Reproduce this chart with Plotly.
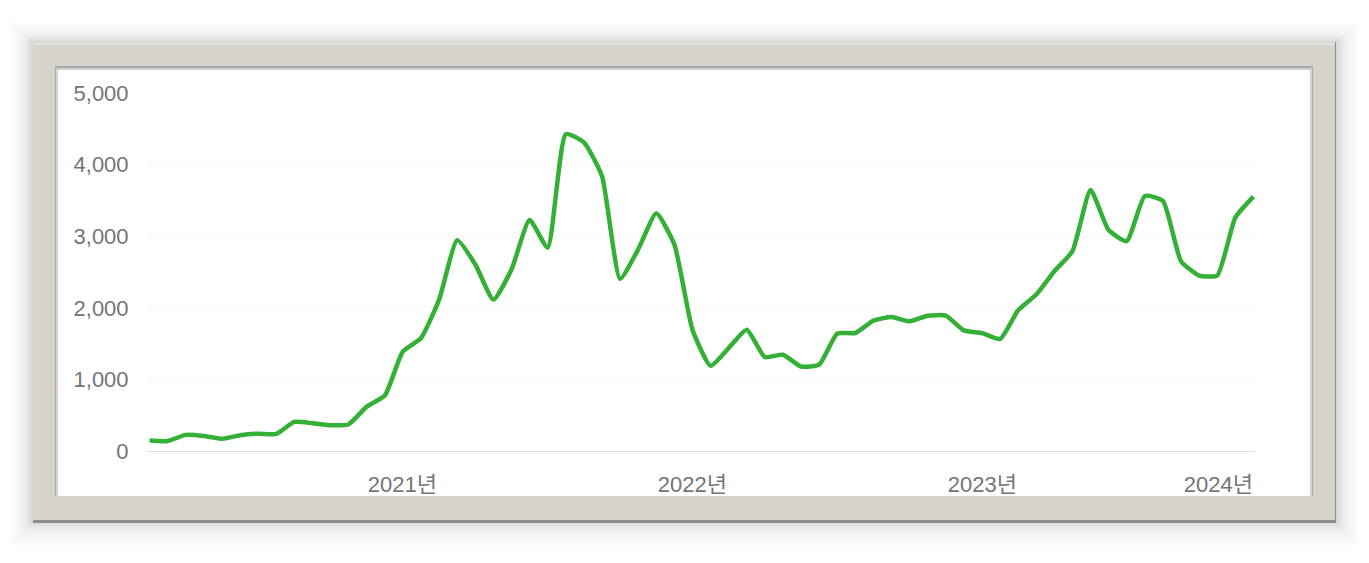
import plotly.graph_objects as go
import pandas as pd

# ---- data ----
start_date = "2020-02-18"
end_date = "2023-12-08"
values = [145, 140, 225, 210, 170, 220, 242, 238, 406, 388, 360, 374, 620, 775,
          1390, 1578, 2115, 2945, 2605, 2115, 2535, 3225, 2840, 4425,
          4310, 3840, 2405, 2815, 3320, 2885, 1695, 1190, 1438, 1695, 1312, 1345,
          1181, 1205, 1640, 1648, 1820, 1872, 1811, 1890, 1890, 1685,
          1648, 1564, 1965, 2185, 2511, 2791, 3646, 3085, 2931, 3562, 3492,
          2651, 2451, 2451, 3259, 3553]
dates = pd.date_range(start_date, end_date, periods=len(values))
tick_vals = ["2021-01-01", "2022-01-01", "2023-01-01", "2023-10-25"]
tick_text = ["2021년", "2022년", "2023년", "2024년"]
y_ticks = [0, 1000, 2000, 3000, 4000, 5000]
y_text = ["0", "1,000", "2,000", "3,000", "4,000", "5,000"]

W, H = 1369, 563
L, R, T, B = 148, 1255, 93, 451


def px(x):
    return (x - L) / (R - L)


def py(y):
    return (B - y) / (B - T)


def rect(x0, y0, x1, y1, color, **kw):
    return dict(type="rect", xref="paper", yref="paper",
                x0=px(x0), x1=px(x1), y0=py(y1), y1=py(y0),
                fillcolor=color, line=dict(width=0), layer="below", **kw)


shapes = []
# soft outer shadow
for k in range(24, 0, -1):
    a = 0.004 if k > 8 else 0.012
    shapes.append(rect(33 - k, 43 - k * 0.9, 1336 + k, 521 + k * 1.1,
                       "rgba(0,0,0,%g)" % a))
# frame bottom/right dark edge
shapes.append(rect(33, 42, 1336, 523, "#8c8b86"))
shapes.append(rect(33, 42, 1335, 520, "#d6d3cb"))
shapes.append(rect(33, 43, 1335, 45, "#e6e4de"))
# inner bevel / inset shadow
shapes.append(rect(55, 66, 1313, 496, "#a9a9a9"))
shapes.append(rect(56, 68, 1312, 496, "#d2d2d2"))
shapes.append(rect(58, 70, 1310, 496, "#ffffff"))

fig = go.Figure()
fig.add_trace(go.Scatter(
    x=dates, y=values, mode="lines",
    line=dict(color="#33b035", width=4.5, shape="spline", smoothing=0.5),
    hoverinfo="skip", showlegend=False))

fig.update_layout(
    width=W, height=H,
    margin=dict(l=L, r=W - R, t=T, b=H - B, pad=0),
    paper_bgcolor="#ffffff", plot_bgcolor="rgba(0,0,0,0)",
    shapes=shapes,
    font=dict(family="Liberation Sans, Arial, Noto Sans CJK KR", size=22, color="#757575"),
    xaxis=dict(type="date", range=["2020-02-16", "2023-12-10"],
               tickvals=tick_vals, ticktext=tick_text,
               showgrid=False, zeroline=False,
               showline=True, linecolor="#dcdcdc", linewidth=1,
               ticks="outside", ticklen=14, tickcolor="rgba(0,0,0,0)",
               tickfont=dict(size=22, color="#757575")),
    yaxis=dict(range=[0, 5000], tickvals=y_ticks, ticktext=y_text,
               showgrid=True, gridcolor="#f7f7f7", zeroline=False,
               showline=False,
               ticks="outside", ticklen=14, tickcolor="rgba(0,0,0,0)",
               tickfont=dict(size=22, color="#757575")),
)

fig.write_html("out.html", config={"displayModeBar": False},
               post_script="document.body.style.margin='0';")
